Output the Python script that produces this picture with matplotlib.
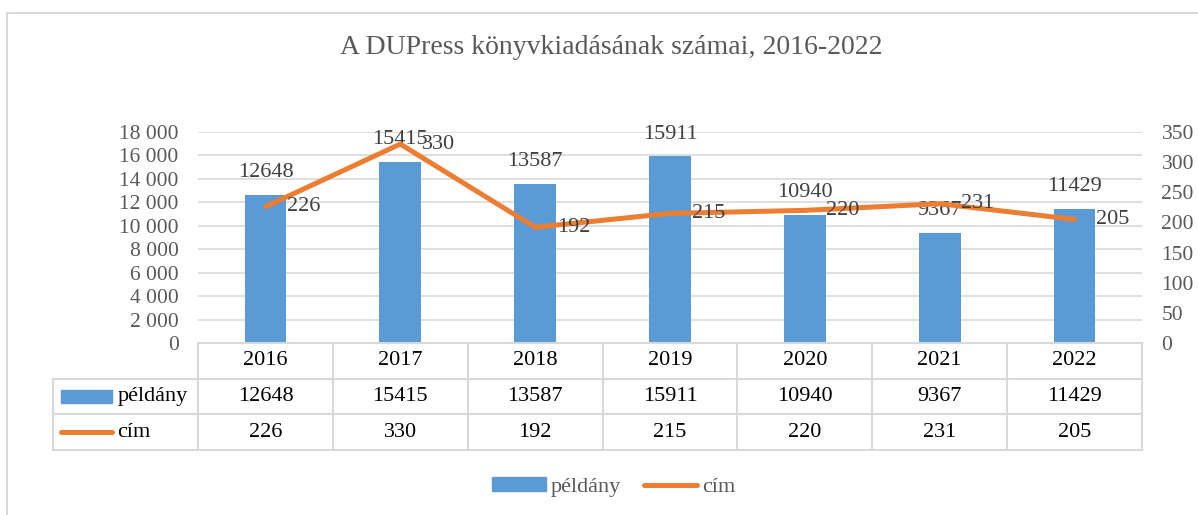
import matplotlib
matplotlib.use("Agg")
import matplotlib.pyplot as plt
from matplotlib.patches import Patch, Rectangle
from matplotlib.lines import Line2D

# data
years = ["2016", "2017", "2018", "2019", "2020", "2021", "2022"]
peldany = [12648, 15415, 13587, 15911, 10940, 9367, 11429]
cim = [226, 330, 192, 215, 220, 231, 205]

blue = "#5B9BD5"
orange = "#ED7D31"
grid = "#D9D9D9"
gray_txt = "#595959"
dark_txt = "#404040"
fs = 16

plt.rcParams["font.family"] = ["Liberation Serif", "DejaVu Serif"]

W, H = 1198, 515
fig = plt.figure(figsize=(W / 100, H / 100), dpi=100)

def box(x0, y0, x1, y1):
    # pixel box (top-left origin) -> figure fraction
    return [x0 / W, 1 - y1 / H, (x1 - x0) / W, (y1 - y0) / H]

# outer chart border (only left and top edges fall inside the image)
fig.add_artist(Rectangle((7 / W, -0.1), 1.2, 1.1 - 13 / H, transform=fig.transFigure,
                         fill=False, edgecolor=grid, lw=1.5))

ax = fig.add_axes(box(198, 132, 1142, 343))
x = list(range(len(years)))
ax.bar(x, peldany, width=0.31, color=blue, zorder=2)
ax.set_xlim(-0.5, len(years) - 0.5)
ax.set_ylim(0, 18000)
ax.set_yticks(range(0, 18001, 2000))
ax.set_yticklabels([f"{v:,}".replace(",", " ") for v in range(0, 18001, 2000)])
ax.set_xticks([])
ax.grid(axis="y", color=grid, lw=1.2, zorder=0)
for s in ax.spines.values():
    s.set_visible(False)
ax.tick_params(axis="y", length=0, labelsize=15.5, labelcolor=gray_txt, pad=14)

for i, v in enumerate(peldany):
    ax.text(i, v + 1100, str(v), ha="center", va="bottom", fontsize=fs, color=dark_txt)

ax2 = ax.twinx()
ax2.plot(x, cim, color=orange, lw=3.6, solid_capstyle="round", zorder=3)
ax2.set_ylim(0, 350)
ax2.set_yticks(range(0, 351, 50))
for s in ax2.spines.values():
    s.set_visible(False)
ax2.tick_params(axis="y", length=0, labelsize=15.5, labelcolor=gray_txt, pad=14)
for i, v in enumerate(cim):
    ax2.text(i + 0.16, v, str(v), ha="left", va="center", fontsize=fs, color=dark_txt)

# data table below the plot
tab = fig.add_axes(box(198, 343, 1142, 450))
tab.set_xlim(-0.5, len(years) - 0.5)
tab.set_ylim(3, 0)
tab.axis("off")
left = -0.5 - 145 / 135
n = len(years)
kw = dict(color=grid, lw=1.5, clip_on=False)
tab.plot([-0.5, n - 0.5], [0, 0], **kw)
for r in (1, 2, 3):
    tab.plot([left, n - 0.5], [r, r], **kw)
tab.plot([left, left], [1, 3], **kw)
for c in range(n + 1):
    tab.plot([c - 0.5, c - 0.5], [0, 3], **kw)

for i in range(n):
    tab.text(i, 0.5, years[i], ha="center", va="center", fontsize=fs, color="black")
    tab.text(i, 1.5, str(peldany[i]), ha="center", va="center", fontsize=fs, color="black")
    tab.text(i, 2.5, str(cim[i]), ha="center", va="center", fontsize=fs, color="black")

# legend keys in the row header cells
key0, key1 = left + 0.06, left + 0.44
tab.fill_between([key0, key1], 1.32, 1.68, color=blue, clip_on=False)
tab.plot([key0, key1], [2.5, 2.5], color=orange, lw=3.6, solid_capstyle="round", clip_on=False)
tab.text(key1 + 0.035, 1.5, "példány", ha="left", va="center", fontsize=fs, color="black")
tab.text(key1 + 0.035, 2.5, "cím", ha="left", va="center", fontsize=fs, color="black")

fig.text(611 / W, 1 - 48 / H, "A DUPress könyvkiadásának számai, 2016-2022",
         ha="center", va="center", fontsize=20, color=gray_txt)

handles = [Patch(color=blue, label="példány"),
           Line2D([0], [0], color=orange, lw=3.6, solid_capstyle="round", label="cím")]
fig.legend(handles=handles, loc="center", bbox_to_anchor=(614 / W, 1 - 487 / H), ncol=2,
           frameon=False, fontsize=fs, labelcolor=gray_txt, handlelength=2.4,
           handleheight=0.55, columnspacing=1.0, handletextpad=0.25)

fig.savefig("out.png", dpi=100)
